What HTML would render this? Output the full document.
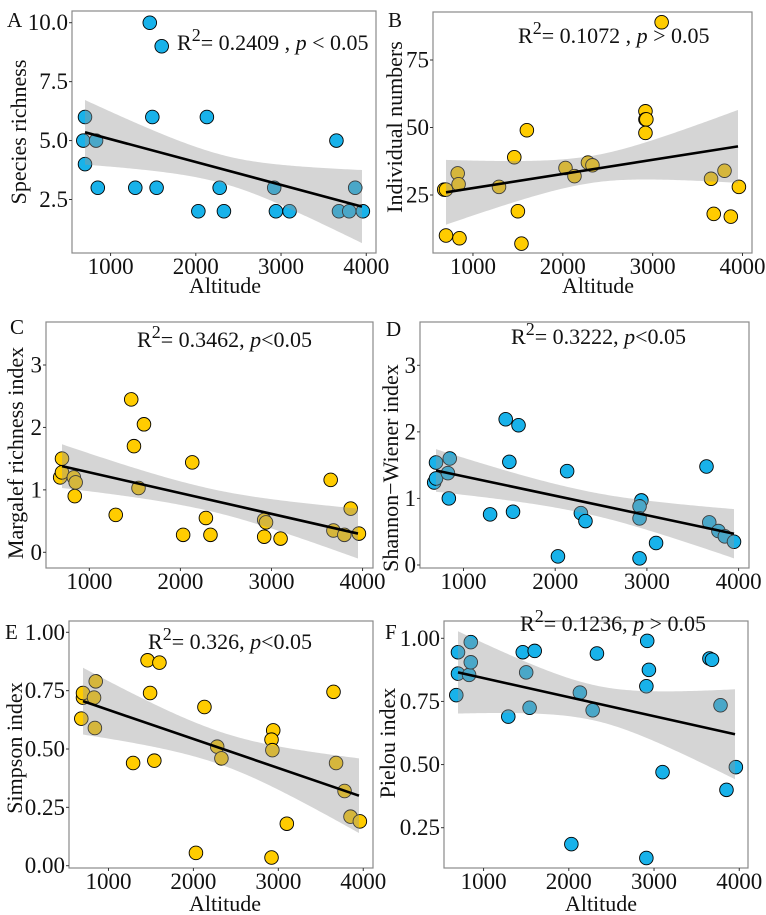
<!DOCTYPE html>
<html><head><meta charset="utf-8">
<style>
body{margin:0;background:#fff;}
svg{display:block;}
svg text{font-family:"Liberation Serif","DejaVu Serif",serif;}
</style></head>
<body>
<svg id="c" width="766" height="915" viewBox="0 0 766 915"></svg>
<script>
// ---- data ----
const xTicks=[1000,2000,3000,4000];
const altA=[680,700,700,830,850,1290,1460,1490,1540,1600,2030,2130,2280,2330,2920,2940,3100,3650,3680,3800,3870,3960];
const valA=[5,6,4,5,3,3,10,6,3,9,2,6,3,2,3,2,2,5,2,2,3,2];
const altB=[680,700,700,830,840,850,1290,1460,1500,1540,1600,2030,2130,2280,2330,2920,2920,2930,2920,3100,3650,3680,3800,3870,3960];
const valB=[27,27,10,33,29,9,28,39,19,7,49,35,32,37,36,56,53,53,48,89,31,18,34,17,28];
const altC=[680,700,700,830,850,840,1290,1460,1490,1540,1600,2030,2130,2280,2330,2920,2940,2920,3100,3650,3680,3800,3870,3960];
const valC=[1.2,1.28,1.5,1.2,1.12,0.9,0.6,2.45,1.7,1.03,2.05,0.28,1.44,0.55,0.28,0.52,0.48,0.25,0.22,1.16,0.35,0.28,0.7,0.3];
const altD=[680,700,700,830,850,840,1290,1460,1500,1540,1600,2030,2130,2280,2330,2940,2920,2920,2920,3100,3650,3680,3780,3850,3950];
const valD=[1.24,1.3,1.54,1.38,1.6,1.0,0.76,2.19,1.55,0.8,2.1,0.13,1.41,0.78,0.66,0.97,0.88,0.7,0.1,0.33,1.48,0.64,0.51,0.43,0.35];
const altE=[680,700,700,830,850,840,1290,1460,1490,1540,1600,2030,2130,2280,2330,2940,2920,2930,2920,3100,3650,3680,3780,3850,3960];
const valE=[0.63,0.72,0.74,0.72,0.79,0.59,0.44,0.88,0.74,0.45,0.87,0.055,0.68,0.51,0.46,0.58,0.54,0.495,0.035,0.18,0.745,0.44,0.32,0.21,0.19];
const altF=[680,700,700,830,850,850,1290,1460,1500,1540,1600,2030,2130,2280,2330,2920,2940,2910,2910,3100,3650,3680,3780,3850,3960];
const valF=[0.775,0.86,0.945,0.855,0.905,0.985,0.69,0.945,0.865,0.725,0.95,0.185,0.785,0.715,0.94,0.99,0.875,0.81,0.13,0.47,0.92,0.915,0.735,0.40,0.49];
// fitted line [value at 700, value at 3950]; band half-widths [left, mid, right]
const fitA=[5.35,2.2], bandA=[1.37,0.6,1.55];
const fitB=[26,43], bandB=[12,5,13.5];
const fitC=[1.38,0.3], bandC=[0.35,0.18,0.4];
const fitD=[1.42,0.47], bandD=[0.32,0.17,0.37];
const fitE=[0.705,0.3], bandE=[0.143,0.07,0.16];
const fitF=[0.865,0.62], bandF=[0.163,0.07,0.178];
const ticksA=[2.5,5.0,7.5,10.0], ticksB=[25,50,75], ticksC=[0,1,2,3], ticksD=[0,1,2,3];
const ticksE=[0,0.25,0.5,0.75,1.0], ticksF=[0.25,0.5,0.75,1.0];

const NS="http://www.w3.org/2000/svg";
const FONT='"Liberation Serif", "DejaVu Serif", serif';
const svg=document.getElementById('c');
function mk(tag,at,parent){const e=document.createElementNS(NS,tag);for(const k in at)e.setAttribute(k,at[k]);if(tag==='text')e.setAttribute('font-family',FONT);(parent||svg).appendChild(e);return e;}

const panels=[
 {id:'a',L:72,T:11,R:376,B:253,x0:85,x1:362,yv:[10,22.7,2.5,199.5],alt:altA,val:valA,fit:fitA,band:bandA,ticks:ticksA,fmt:v=>v.toFixed(1),color:'#18b2ea',
  letter:['A',7,27],ytitle:['Species richness',26,132],xtitle:[225,293],ann:[177,50,'0.2409 , ','p',' < 0.05']},
 {id:'b',L:433,T:12,R:752,B:253,x0:446,x1:738,yv:[75,60,25,195],alt:altB,val:valB,fit:fitB,band:bandB,ticks:ticksB,fmt:v=>String(v),color:'#ffcc00',
  letter:['B',388,27],ytitle:['Individual numbers',402,127],xtitle:[598,293],ann:[518,43,'0.1072 , ','p',' > 0.05']},
 {id:'c',L:46,T:322,R:373,B:568,x0:62,x1:358,yv:[3,365,0,552.3],alt:altC,val:valC,fit:fitC,band:bandC,ticks:ticksC,fmt:v=>String(v),color:'#ffcc00',
  letter:['C',10,334],ytitle:['Margalef richness index',23,453],xtitle:null,ann:[137,347,'0.3462,  ','p','<0.05']},
 {id:'d',L:420,T:322,R:749,B:568,x0:436,x1:734,yv:[3,365.3,0,565],alt:altD,val:valD,fit:fitD,band:bandD,ticks:ticksD,fmt:v=>String(v),color:'#18b2ea',
  letter:['D',386,336],ytitle:['Shannon\u2212Wiener index',398,468],xtitle:null,ann:[511,344,'0.3222,  ','p','<0.05']},
 {id:'e',L:69,T:621,R:373,B:868,x0:83,x1:359,yv:[1,632.3,0,865.7],alt:altE,val:valE,fit:fitE,band:bandE,ticks:ticksE,fmt:v=>v.toFixed(2),color:'#ffcc00',
  letter:['E',5,639],ytitle:['Simpson index',22,748],xtitle:[225,911],ann:[148,649,'0.326, ','p','<0.05']},
 {id:'f',L:444,T:621,R:748,B:868,x0:458,x1:735,yv:[1,638.3,0.25,827.7],alt:altF,val:valF,fit:fitF,band:bandF,ticks:ticksF,fmt:v=>v.toFixed(2),color:'#18b2ea',
  letter:['F',385,639],ytitle:['Pielou index',395,743],xtitle:[601,911],ann:[520,631,'0.1236,  ','p',' > 0.05']}
];

panels.forEach(p=>{
  const g=mk('g',{});
  
  
  const sx=v=>p.x0+(v-700)*(p.x1-p.x0)/(3950-700);
  const sy=v=>p.yv[1]+(p.yv[0]-v)*(p.yv[3]-p.yv[1])/(p.yv[0]-p.yv[2]);
  p.alt.forEach((a,i)=>{
    const c=mk('circle',{cx:sx(a),cy:sy(p.val[i]),r:6.8,fill:p.color,stroke:'#000','stroke-width':0.9},g);
    
    
  });
  const xm=2300, fl=p.fit[0], fr=p.fit[1];
  const lineAt=x=>fl+(fr-fl)*(x-700)/3250;
  const hl=p.band[0]**2, hm=p.band[1]**2, hr=p.band[2]**2;
  const kL=(hl-hm)/((700-xm)**2), kR=(hr-hm)/((3950-xm)**2);
  const hw=x=>Math.sqrt(hm+(x<xm?kL:kR)*(x-xm)**2);
  let up=[],lo=[];
  for(let x=700;x<=3950;x+=25){up.push(sx(x)+','+sy(lineAt(x)+hw(x)));lo.unshift(sx(x)+','+sy(lineAt(x)-hw(x)));}
  const band=mk('polygon',{points:up.concat(lo).join(' '),fill:'rgba(150,150,150,0.4)'},g);
  
  
  const ln=mk('line',{x1:sx(700),y1:sy(fl),x2:sx(3950),y2:sy(fr),stroke:'#000','stroke-width':2.6},g);
  
  
  const fr2=mk('rect',{x:p.L,y:p.T,width:p.R-p.L,height:p.B-p.T,fill:'none',stroke:'#8a8a8a','stroke-width':1.2},g);
  
  
  p.ticks.forEach(t=>{
    const y=sy(t);
    mk('line',{x1:p.L-3,y1:y,x2:p.L,y2:y,stroke:'#333','stroke-width':1},g);
    const tx=mk('text',{x:p.L-4,y:y+7.5,'text-anchor':'end','font-size':23,fill:'#111'},g);
    tx.textContent=p.fmt(t);
    
    
  });
  xTicks.forEach(t=>{
    const x=sx(t);
    mk('line',{x1:x,y1:p.B,x2:x,y2:p.B+3,stroke:'#333','stroke-width':1},g);
    const tx=mk('text',{x:x,y:p.B+21,'text-anchor':'middle','font-size':23,fill:'#111'},g);
    tx.textContent=t;
    
    
  });
  const lt=mk('text',{x:p.letter[1],y:p.letter[2],'font-size':21,fill:'#111'},g);
  lt.textContent=p.letter[0];
  
  
  const yt=mk('text',{x:p.ytitle[1],y:p.ytitle[2],'text-anchor':'middle','font-size':22,fill:'#111',transform:`rotate(-90 ${p.ytitle[1]} ${p.ytitle[2]})`},g);
  yt.textContent=p.ytitle[0];
  
  
  if(p.xtitle){
    const xt=mk('text',{x:p.xtitle[0],y:p.xtitle[1],'text-anchor':'middle','font-size':22,fill:'#111'},g);
    xt.textContent='Altitude';
    
    
  }
  const an=mk('text',{x:p.ann[0],y:p.ann[1],'font-size':22,fill:'#111'},g);
  
  
  const a1=mk('tspan',{},an);a1.textContent='R';
  const a2=mk('tspan',{dy:-9,'font-size':18},an);a2.textContent='2';
  const a3=mk('tspan',{dy:9},an);a3.textContent='= '+p.ann[2];
  const a4=mk('tspan',{'font-style':'italic'},an);a4.textContent=p.ann[3];
  const a5=mk('tspan',{},an);a5.textContent=p.ann[4];
});
</script>
</body></html>
